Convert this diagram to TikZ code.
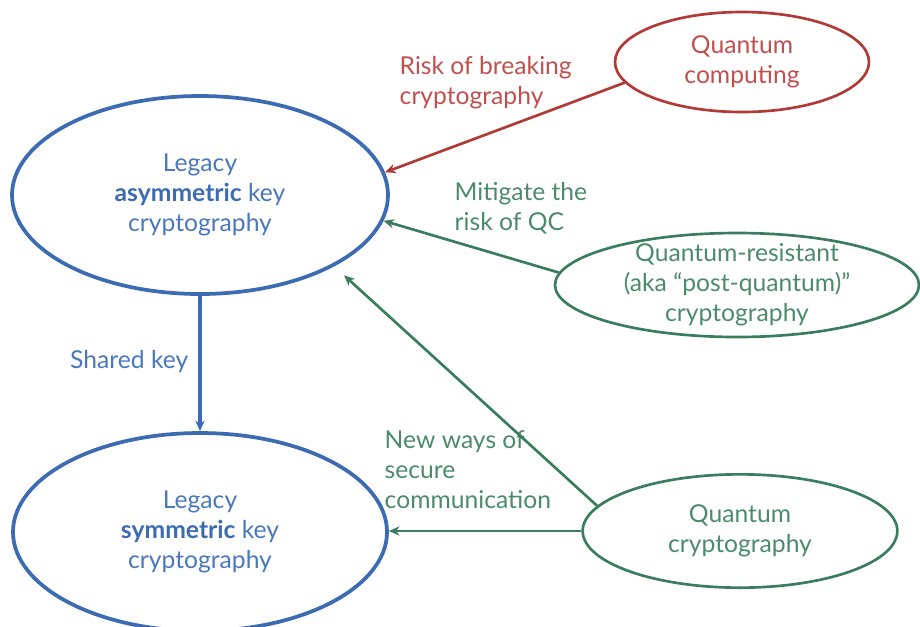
\documentclass[tikz,border=0pt]{standalone}
\usepackage{fontspec}
\setmainfont{Lato}
\usetikzlibrary{shapes.geometric,arrows.meta}
\definecolor{legblue}{HTML}{3C6BB3}
\definecolor{legbluetxt}{HTML}{4A78BC}
\definecolor{qred}{HTML}{B23A36}
\definecolor{qredtxt}{HTML}{C0504D}
\definecolor{qgreen}{HTML}{3A7D5E}
\definecolor{qgreentxt}{HTML}{4B8B6C}
\begin{document}
\begin{tikzpicture}[x=0.75pt,y=-0.75pt,
    every node/.style={font=\fontsize{18.5}{22.5}\selectfont, align=center},
    blob/.style={ellipse, draw, inner sep=0pt},
    link/.style={-{Stealth[length=8pt,width=7pt]}, line width=2pt}]
    \clip (0,0) rectangle (920,626);
    % the two legacy schemes
    \node[blob, draw=legblue, line width=2.8pt, text=legbluetxt, minimum width=282pt, minimum height=148.5pt] (asym) at (200,195)
        {Legacy\\\textbf{\color{legblue}asymmetric} key\\cryptography};
    \node[blob, draw=legblue, line width=2.8pt, text=legbluetxt, minimum width=280.5pt, minimum height=148.5pt] (sym) at (200,532)
        {Legacy\\\textbf{\color{legblue}symmetric} key\\cryptography};
    % quantum side
    \node[blob, draw=qred, line width=2pt, text=qredtxt, minimum width=190.5pt, minimum height=75pt] (qc) at (742,62)
        {Quantum\\computing};
    \node[blob, draw=qgreen, line width=2pt, text=qgreentxt, minimum width=273pt, minimum height=78pt, inner ysep=-14pt] (qr) at (737,285)
        {Quantum-resistant\\(aka “post-quantum)”\\cryptography};
    \node[blob, draw=qgreen, line width=2pt, text=qgreentxt, minimum width=236pt, minimum height=85pt] (qcr) at (740,531)
        {Quantum\\cryptography};
    % labels
    \node[anchor=west, align=left, text=qredtxt] (risk) at (395,83) {Risk of breaking\\cryptography};
    \node[anchor=west, align=left, text=qgreentxt] (mitig) at (450,208) {Mitigate the\\risk of QC};
    \node[anchor=east, text=legbluetxt] (shared) at (193,362) {Shared key};
    \node[anchor=west, align=left, text=qgreentxt] (newways) at (380,470) {New ways of\\secure\\communication};
    % connectors
    \draw[link, draw=legblue, line width=2.4pt] (asym.south) -- (sym.north);
    \draw[link, draw=qred] (qc.190) -- (asym.7);
    \draw[link, draw=qgreen] (qr.176) -- (asym.-8);
    \draw[link, draw=qgreen, shorten >=10pt] (qcr.170) -- (asym.-28);
    \draw[link, draw=qgreen] (qcr.west) -- (qcr.west -| sym.east);
\end{tikzpicture}
\end{document}
